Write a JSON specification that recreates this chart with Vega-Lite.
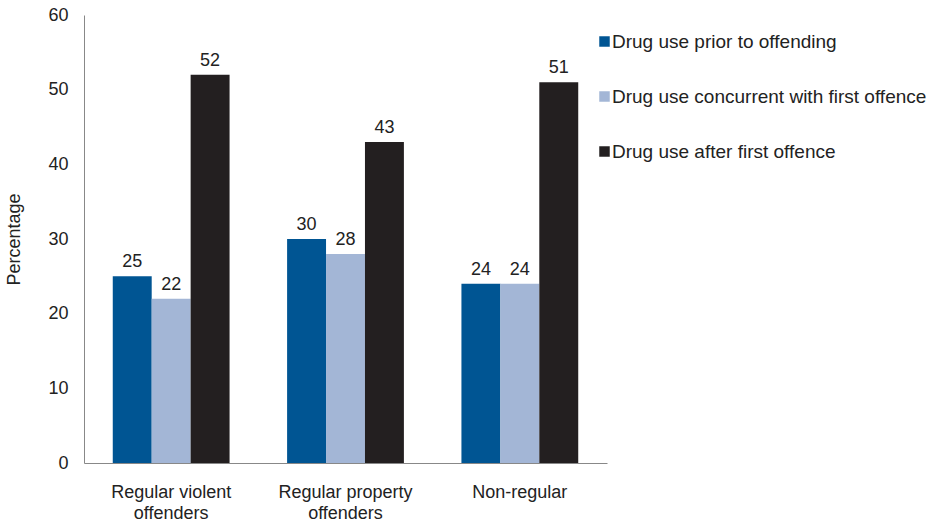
{
  "$schema": "https://vega.github.io/schema/vega-lite/v6.json",
  "width": 523,
  "height": 448,
  "autosize": {"type": "none"},
  "padding": {"left": 84, "top": 15, "right": 328, "bottom": 59},
  "background": "white",
  "config": {"view": {"stroke": null}, "font": "Liberation Sans"},
  "data": {"values": [
    {"group": "Regular violent offenders", "series": "Drug use prior to offending", "value": 25},
    {"group": "Regular violent offenders", "series": "Drug use concurrent with first offence", "value": 22},
    {"group": "Regular violent offenders", "series": "Drug use after first offence", "value": 52},
    {"group": "Regular property offenders", "series": "Drug use prior to offending", "value": 30},
    {"group": "Regular property offenders", "series": "Drug use concurrent with first offence", "value": 28},
    {"group": "Regular property offenders", "series": "Drug use after first offence", "value": 43},
    {"group": "Non-regular", "series": "Drug use prior to offending", "value": 24},
    {"group": "Non-regular", "series": "Drug use concurrent with first offence", "value": 24},
    {"group": "Non-regular", "series": "Drug use after first offence", "value": 51}
  ]},
  "encoding": {
    "x": {
      "field": "group", "type": "nominal", "sort": null,
      "scale": {"paddingInner": 0.33, "paddingOuter": 0.165},
      "axis": {
        "title": null, "labelAngle": 0, "ticks": false, "domainColor": "#888888",
        "labelFontSize": 18, "labelColor": "#222222", "labelPadding": 20, "labelLineHeight": 21,
        "labelExpr": "datum.label == 'Regular violent offenders' ? ['Regular violent', 'offenders'] : datum.label == 'Regular property offenders' ? ['Regular property', 'offenders'] : datum.label"
      }
    },
    "xOffset": {"field": "series", "type": "nominal", "sort": ["Drug use prior to offending", "Drug use concurrent with first offence", "Drug use after first offence"]},
    "y": {
      "field": "value", "type": "quantitative",
      "scale": {"domain": [0, 60]},
      "axis": {
        "title": "Percentage", "titleFontSize": 18, "titleFontWeight": "normal", "titleColor": "#222222", "titlePadding": 24,
        "values": [0, 10, 20, 30, 40, 50, 60], "ticks": false, "grid": false, "domainColor": "#888888",
        "labelFontSize": 18, "labelColor": "#222222", "labelPadding": 16
      }
    }
  },
  "layer": [
    {
      "mark": {"type": "bar"},
      "encoding": {
        "color": {
          "field": "series", "type": "nominal",
          "scale": {"domain": ["Drug use prior to offending", "Drug use concurrent with first offence", "Drug use after first offence"], "range": ["#005593", "#A3B6D6", "#231F20"]},
          "legend": {
            "title": null, "orient": "none", "legendX": 511, "legendY": 17,
            "symbolType": "square", "symbolSize": 110, "symbolStrokeWidth": 0,
            "labelFontSize": 19, "labelColor": "#222222", "rowPadding": 35, "labelOffset": -2, "labelLimit": 400
          }
        }
      }
    },
    {
      "mark": {"type": "text", "baseline": "bottom", "dy": -5, "fontSize": 18, "color": "#222222"},
      "encoding": {"text": {"field": "value", "type": "quantitative"}}
    }
  ]
}
